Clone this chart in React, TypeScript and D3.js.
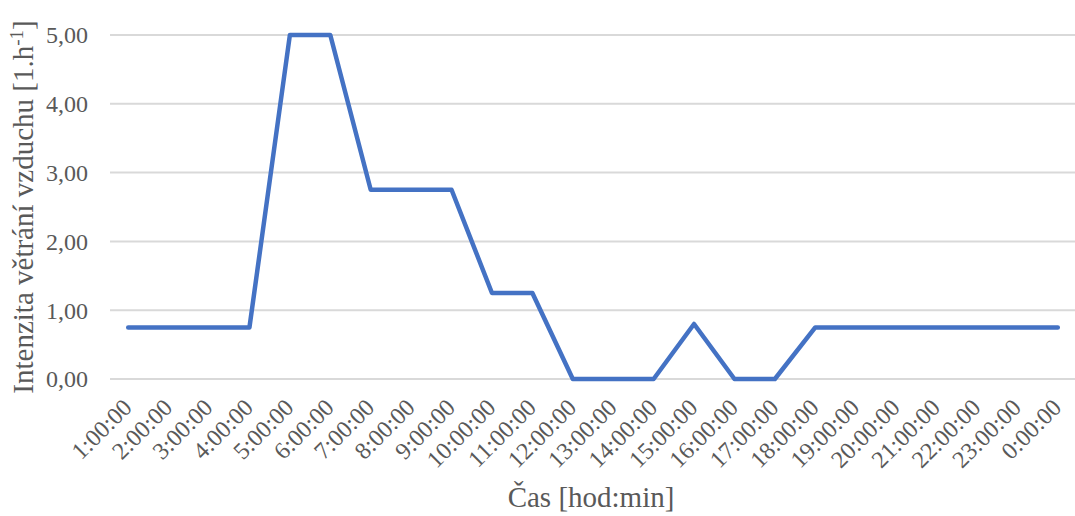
import React from "react";
import * as d3 from "d3";

const categories = ["1:00:00","2:00:00","3:00:00","4:00:00","5:00:00","6:00:00","7:00:00","8:00:00","9:00:00","10:00:00","11:00:00","12:00:00","13:00:00","14:00:00","15:00:00","16:00:00","17:00:00","18:00:00","19:00:00","20:00:00","21:00:00","22:00:00","23:00:00","0:00:00"];
const values = [0.75,0.75,0.75,0.75,5,5,2.75,2.75,2.75,1.25,1.25,0,0,0,0.8,0,0,0.75,0.75,0.75,0.75,0.75,0.75,0.75];
const yTicks = [0,1,2,3,4,5];

export default function App() {
  const W = 1075, H = 516;
  const left = 108, right = 1078, top = 35, bottom = 379;
  const x = d3.scaleBand<string>().domain(categories).range([left, right]);
  const y = d3.scaleLinear().domain([0, 5]).range([bottom, top]);
  const line = d3.line<number>()
    .x((_, i) => (x(categories[i]) as number) + x.bandwidth() / 2)
    .y((d) => y(d));
  const font = "'Liberation Serif', 'Times New Roman', serif";
  const fmt = (v: number) => v.toFixed(2).replace(".", ",");
  return (
    <svg width={W} height={H} style={{ position: "absolute", left: 0, top: 0, background: "#fff" }} fontFamily={font}>
      {yTicks.map((t) => (
        <g key={t}>
          <line x1={left + 2} x2={right} y1={y(t)} y2={y(t)} stroke="#d9d9d9" strokeWidth={2} />
          <text x={88} y={y(t)} dy="0.35em" textAnchor="end" fontSize={24} fill="#595959">{fmt(t)}</text>
        </g>
      ))}
      {categories.map((c) => {
        const cx = (x(c) as number) + x.bandwidth() / 2;
        return (
          <text key={c} transform={`translate(${cx + 5},${bottom + 30}) rotate(-45)`} textAnchor="end" fontSize={24} fill="#595959">{c}</text>
        );
      })}
      <path d={line(values) || ""} fill="none" stroke="#4472C4" strokeWidth={4.5} strokeLinejoin="round" strokeLinecap="round" />
      <text transform={`translate(33,${(top + bottom) / 2}) rotate(-90)`} textAnchor="middle" fontSize={29} fill="#595959">
        Intenzita větrání vzduchu [1.h<tspan dy="-10" fontSize={19}>-1</tspan><tspan dy="10">]</tspan>
      </text>
      <text x={591} y={507} textAnchor="middle" fontSize={29} fill="#595959">Čas [hod:min]</text>
    </svg>
  );
}
